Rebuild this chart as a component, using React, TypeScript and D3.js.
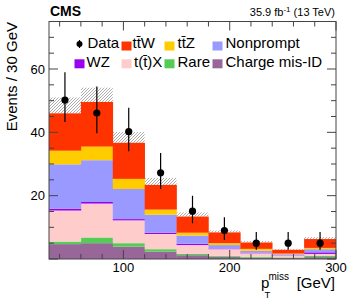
import React from "react";
import * as d3 from "d3";

const binEdges = [30, 60, 90, 120, 150, 180, 210, 240, 270, 300];
// per-process yields (bottom to top of stack)
const chargeMisID = [4.7, 5.0, 3.9, 2.3, 1.2, 0.7, 0.4, 0.3, 0.6];
const rare = [0.8, 1.8, 1.1, 0.8, 0.4, 0.3, 0.3, 0.2, 0.4];
const ttX = [9.8, 10.7, 7.2, 4.8, 2.8, 2.1, 1.1, 0.6, 0.6];
const wz = [0.6, 0.5, 0.4, 0.4, 0.4, 0.2, 0.2, 0.1, 0.5];
const nonprompt = [14.0, 13.2, 9.5, 5.7, 2.6, 1.1, 0.6, 0.3, 1.0];
const ttZ = [4.3, 4.3, 3.2, 1.6, 0.9, 0.6, 0.6, 0.2, 0.4];
const ttW = [11.8, 14.1, 11.4, 7.8, 5.1, 3.4, 2.0, 1.2, 2.8];
const uncertainty = [5.0, 4.5, 3.4, 2.2, 1.3, 0.6, 0.5, 0.3, 0.6];
const dataValues = [50.2, 46.1, 40.2, 27.2, 15.1, 9.0, 5.0, 5.0, 5.0];
const dataUp = [59.0, 54.5, 47.8, 33.5, 20.0, 13.2, 8.5, 8.5, 8.5];
const dataDown = [43.3, 39.7, 34.0, 22.1, 11.3, 6.0, 2.9, 2.9, 2.9];

const processes = [
  { key: "chargeMisID", label: "Charge mis-ID", color: "#996699", values: chargeMisID },
  { key: "rare", label: "Rare", color: "#55cc55", values: rare },
  { key: "ttX", label: "t(t\u0304)X", color: "#ffcccc", values: ttX },
  { key: "wz", label: "WZ", color: "#9900ee", values: wz },
  { key: "nonprompt", label: "Nonprompt", color: "#9999ff", values: nonprompt },
  { key: "ttZ", label: "tt\u0304Z", color: "#ffcc00", values: ttZ },
  { key: "ttW", label: "tt\u0304W", color: "#ff3300", values: ttW },
];

const yMajorTicks = [20, 40, 60];
const xMajorTicks = [100, 200, 300];

const FONT = "'Liberation Sans', Arial, Helvetica, sans-serif";

export default function App() {
  const W = 349, H = 298;
  const left = 49, right = 336, top = 21.5, bottom = 259;
  const x = d3.scaleLinear().domain([30, 300]).range([left, right]);
  const y = d3.scaleLinear().domain([0, 75]).range([bottom, top]);

  const bins = binEdges.slice(0, -1).map((e, i) => ({ i, x0: e, x1: binEdges[i + 1] }));
  const table = bins.map((b) => {
    const row: any = { i: b.i };
    processes.forEach((p) => (row[p.key] = p.values[b.i]));
    return row;
  });
  const stack = d3.stack().keys(processes.map((p) => p.key))(table as any);
  const totals = table.map((r) => processes.reduce((s, p) => s + r[p.key], 0));

  const yMinor = d3.range(0, 76, 5);
  const xMinor = d3.range(40, 301, 20);

  const legendRow1 = [
    { key: "ttW", bx: 121.5, tx: 132.5 },
    { key: "ttZ", bx: 164.5, tx: 177.5 },
    { key: "nonprompt", bx: 212.5, tx: 225.5 },
  ];
  const legendRow2 = [
    { key: "wz", bx: 74.5, tx: 86.5 },
    { key: "ttX", bx: 121.5, tx: 134 },
    { key: "rare", bx: 164.5, tx: 177.5 },
    { key: "chargeMisID", bx: 212.5, tx: 225.5 },
  ];
  const procByKey: any = {};
  processes.forEach((p) => (procByKey[p.key] = p));

  return (
    <svg width={W} height={H} style={{ position: "absolute", left: 0, top: 0 }} fontFamily={FONT}>
      <defs>
        <pattern id="hatch" patternUnits="userSpaceOnUse" width="3" height="3">
          <path d="M-1,1 l2,-2 M0,3 l3,-3 M2,4 l2,-2" stroke="#8a8a8a" strokeWidth="0.7" />
        </pattern>
        <clipPath id="plotClip">
          <rect x={left} y={top} width={right - left} height={bottom - top} />
        </clipPath>
      </defs>
      <rect width={W} height={H} fill="white" />
      <g clipPath="url(#plotClip)">
        {bins.map((b) => (
          <rect
            key={"h" + b.i}
            x={x(b.x0)}
            width={x(b.x1) - x(b.x0)}
            y={y(totals[b.i] + uncertainty[b.i])}
            height={y(totals[b.i]) - y(totals[b.i] + uncertainty[b.i])}
            fill="url(#hatch)"
          />
        ))}
        {stack.map((layer, li) =>
          layer.map((d, bi) => (
            <rect
              key={li + "-" + bi}
              x={x(bins[bi].x0)}
              width={x(bins[bi].x1) - x(bins[bi].x0) + 0.3}
              y={y(d[1])}
              height={Math.max(0, y(d[0]) - y(d[1]))}
              fill={processes[li].color}
            />
          ))
        )}
        {bins.map((b) => {
          const cx = x((b.x0 + b.x1) / 2);
          return (
            <g key={"d" + b.i}>
              <line x1={cx} x2={cx} y1={y(dataUp[b.i])} y2={y(dataDown[b.i])} stroke="#000" strokeWidth={1.2} />
              <circle cx={cx} cy={y(dataValues[b.i])} r={3.6} fill="#000" />
            </g>
          );
        })}
      </g>
      {/* frame */}
      <rect x={left} y={top} width={right - left} height={bottom - top} fill="none" stroke="#444" strokeWidth={1} />
      {/* y ticks */}
      {yMinor.map((v) => {
        const major = yMajorTicks.includes(v) || v === 0;
        const len = major ? 9 : 5;
        return (
          <g key={"yt" + v}>
            <line x1={left} x2={left + len} y1={y(v)} y2={y(v)} stroke="#444" />
            <line x1={right} x2={right - len} y1={y(v)} y2={y(v)} stroke="#444" />
          </g>
        );
      })}
      {yMajorTicks.map((v) => (
        <text key={"yl" + v} x={45} y={y(v)} dy="0.36em" textAnchor="end" fontSize={13} fill="#000">
          {v}
        </text>
      ))}
      {/* x ticks */}
      {xMinor.map((v) => {
        const major = xMajorTicks.includes(v);
        const len = major ? 9 : 5;
        return (
          <g key={"xt" + v}>
            <line x1={x(v)} x2={x(v)} y1={bottom} y2={bottom - len} stroke="#444" />
            <line x1={x(v)} x2={x(v)} y1={top} y2={top + len} stroke="#444" />
          </g>
        );
      })}
      {xMajorTicks.map((v) => (
        <text key={"xl" + v} x={x(v)} y={272} textAnchor="middle" fontSize={13} fill="#000">
          {v}
        </text>
      ))}
      {/* axis titles */}
      <text transform="translate(17,22) rotate(-90)" textAnchor="end" fontSize={15} fill="#000">
        Events / 30 GeV
      </text>
      <text x={261} y={288} fontSize={15} fill="#000">p</text>
      <text x={264.5} y={297.5} fontSize={9.5} fill="#000">T</text>
      <text x={268.5} y={280} fontSize={10} fill="#000">miss</text>
      <text x={335} y={288} textAnchor="end" fontSize={15} fill="#000">[GeV]</text>
      {/* header */}
      <text x={50} y={16} fontSize={14} fontWeight="bold" fill="#000">CMS</text>
      <text x={335} y={16} textAnchor="end" fontSize={11} fill="#000">
        35.9 fb<tspan fontSize={8} dy={-4}>-1</tspan>
        <tspan dy={4}> (13 TeV)</tspan>
      </text>
      {/* legend */}
      <g>
        <line x1={79.5} x2={79.5} y1={40} y2={48} stroke="#000" strokeWidth={1.2} />
        <circle cx={79.5} cy={44} r={3} fill="#000" />
        <text x={87.5} y={48.3} fontSize={15} fill="#000">Data</text>
        {legendRow1.map((l) => (
          <g key={"l1" + l.key}>
            <rect x={l.bx} y={41.5} width={10} height={9} fill={procByKey[l.key].color} />
            <text x={l.tx} y={48.3} fontSize={15} fill="#000">{procByKey[l.key].label}</text>
          </g>
        ))}
        {legendRow2.map((l) => (
          <g key={"l2" + l.key}>
            <rect x={l.bx} y={59.3} width={10} height={9} fill={procByKey[l.key].color} />
            <text x={l.tx} y={66.7} fontSize={15} fill="#000">{procByKey[l.key].label}</text>
          </g>
        ))}
      </g>
    </svg>
  );
}
